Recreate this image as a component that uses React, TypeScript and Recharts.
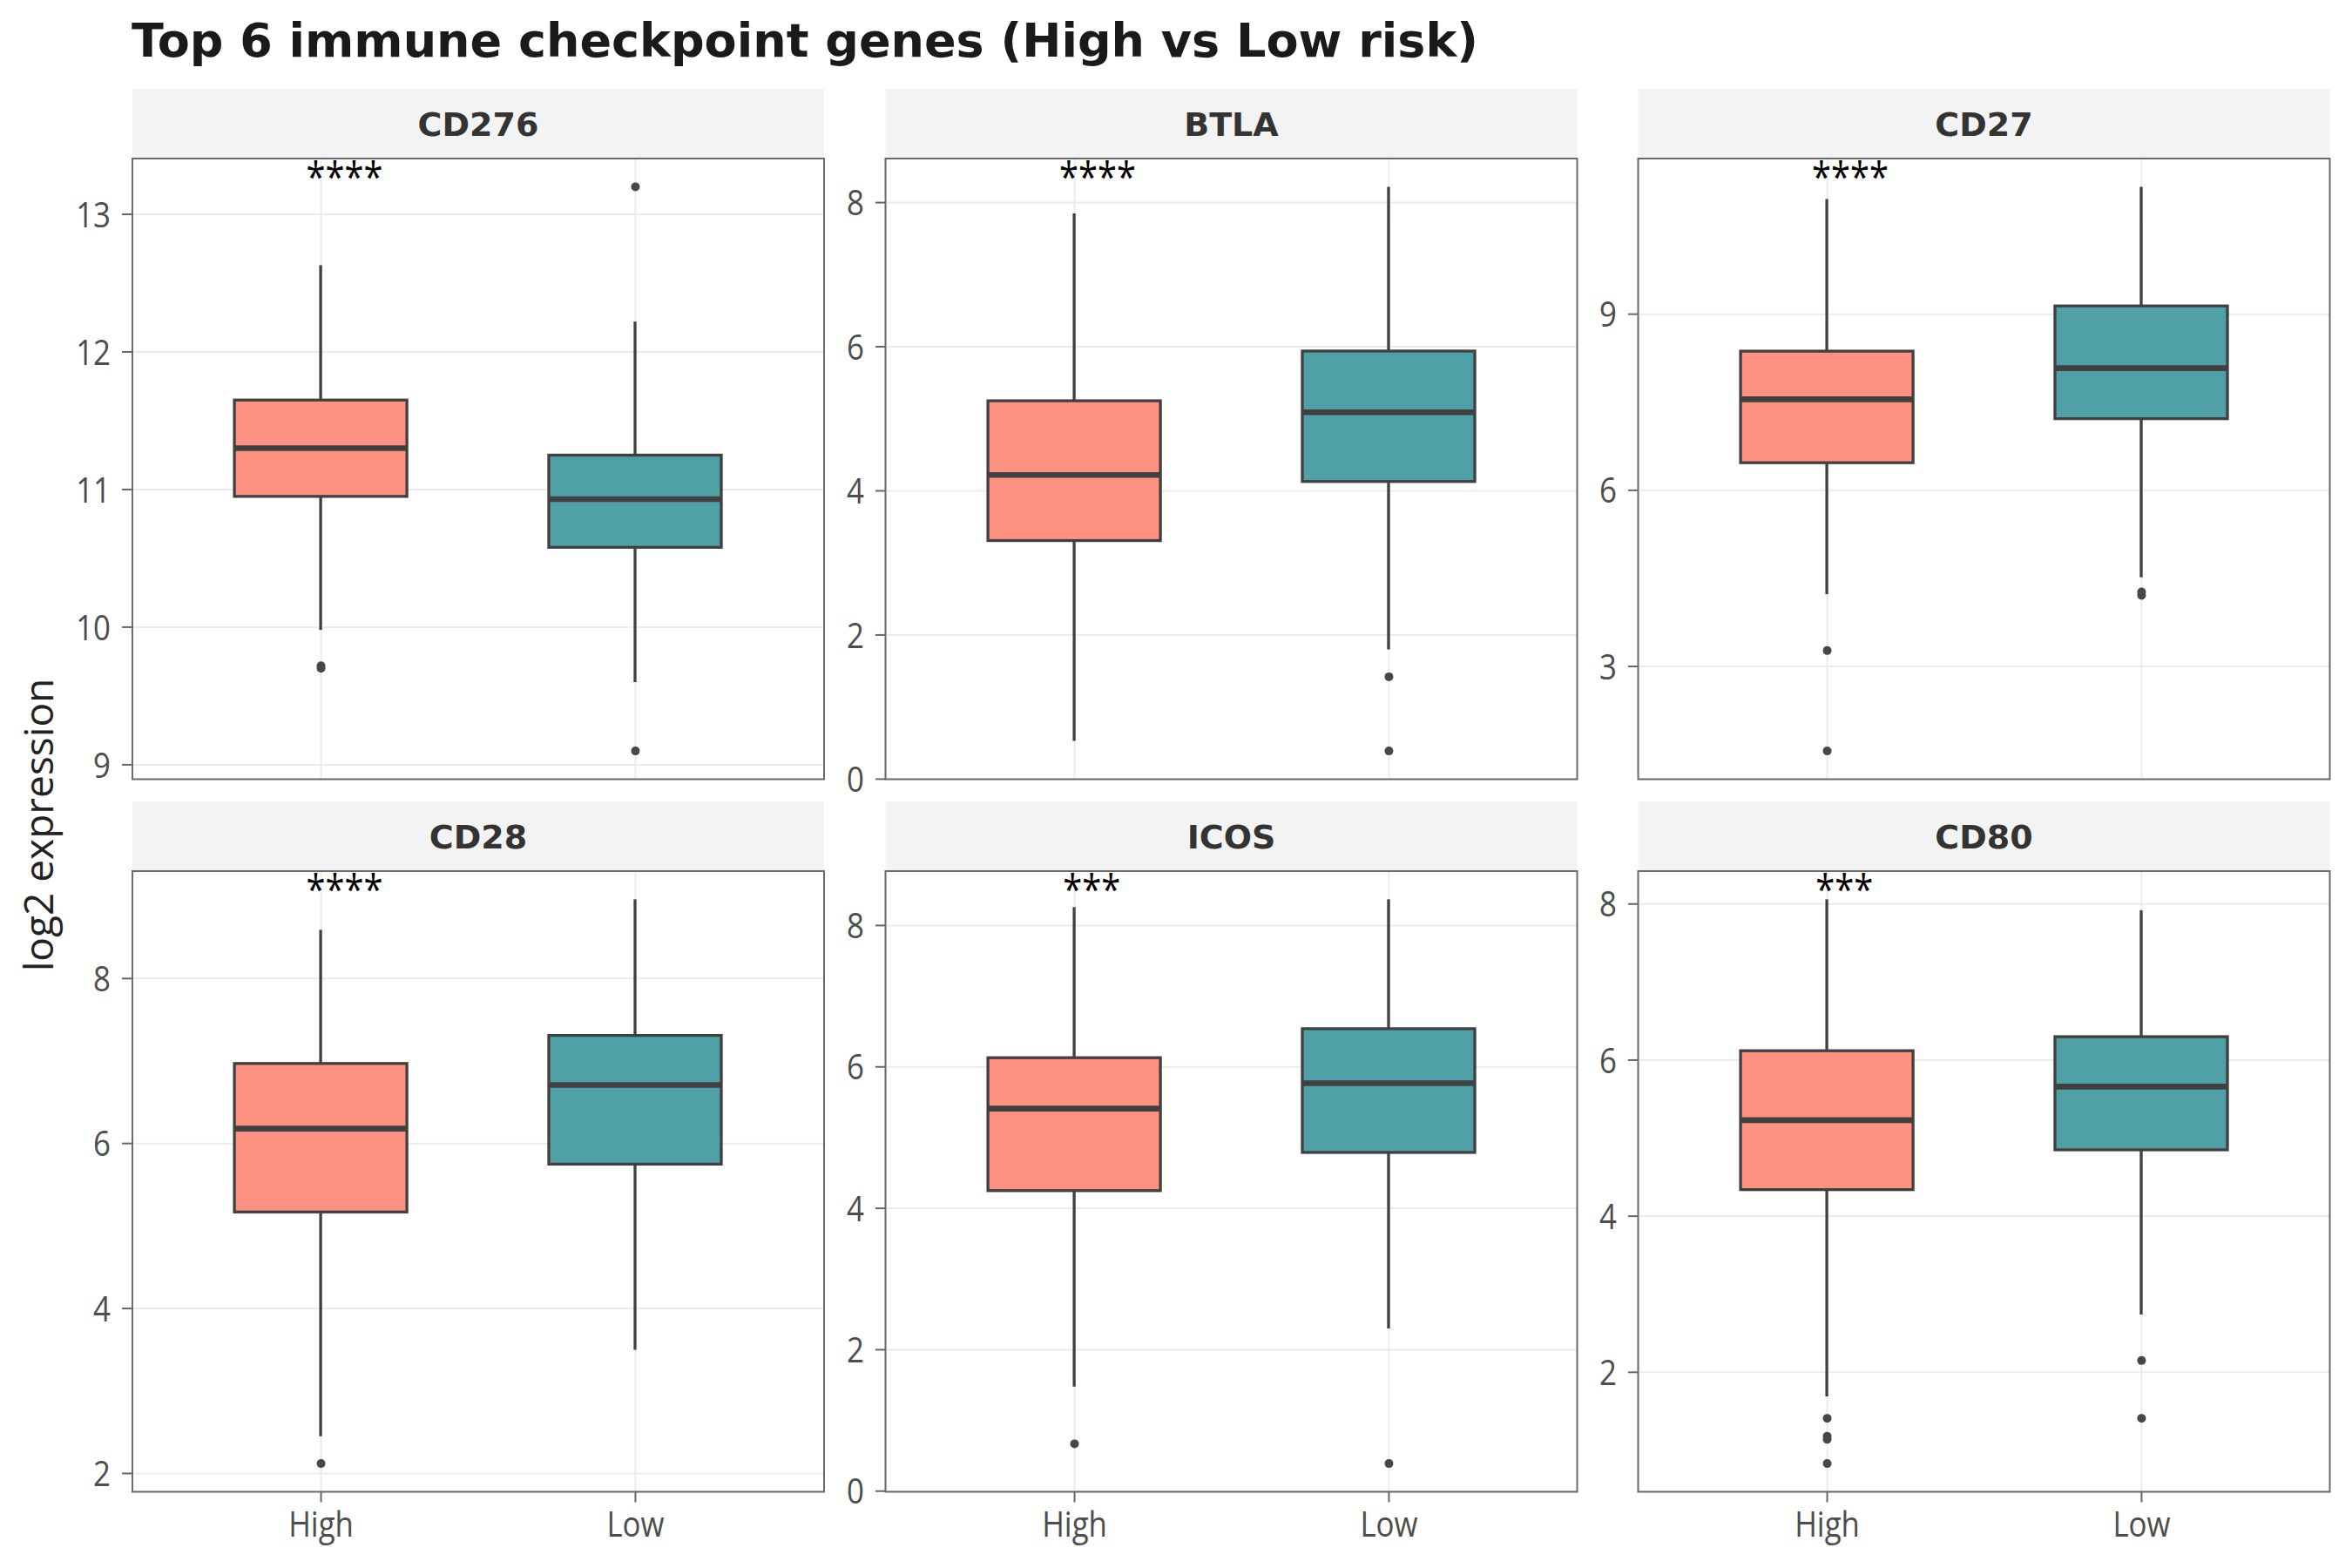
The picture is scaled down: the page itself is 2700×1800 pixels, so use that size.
import React from "react";
import { ComposedChart, Bar, Scatter, XAxis, YAxis, CartesianGrid } from "recharts";

// Genes shown in the 2x3 facet grid, in reading order
const GENES = ["CD276", "BTLA", "CD27", "CD28", "ICOS", "CD80"];
const GROUPS = ["High", "Low"];
const SIGNIF = ["****", "****", "****", "****", "***", "***"];
const Y_TICKS = [
  [9, 10, 11, 12, 13],
  [0, 2, 4, 6, 8],
  [3, 6, 9],
  [2, 4, 6, 8],
  [0, 2, 4, 6, 8],
  [2, 4, 6, 8],
];

// Box-plot summaries per gene: [High, Low]
const LOWER_WHISKER = [[9.98, 9.6], [0.53, 1.8], [4.23, 4.52], [2.45, 3.5], [1.48, 2.3], [1.69, 2.74]];
const Q1 = [[10.95, 10.58], [3.31, 4.13], [6.47, 7.22], [5.17, 5.75], [4.25, 4.79], [4.34, 4.85]];
const MEDIAN = [[11.3, 10.93], [4.22, 5.09], [7.55, 8.08], [6.18, 6.71], [5.41, 5.77], [5.23, 5.66]];
const Q3 = [[11.65, 11.25], [5.25, 5.94], [8.37, 9.14], [6.97, 7.31], [6.13, 6.54], [6.12, 6.3]];
const UPPER_WHISKER = [[12.63, 12.22], [7.85, 8.22], [10.96, 11.17], [8.59, 8.96], [8.26, 8.37], [8.06, 7.92]];
const OUTLIERS_HIGH = [[9.72, 9.7], [], [3.27, 1.56], [2.12], [0.67], [1.41, 1.18, 1.14, 0.83]];
const OUTLIERS_LOW = [[13.2, 9.1], [1.42, 0.39], [4.27, 4.21], [], [0.39], [2.15, 1.41]];

const FILLS = ["#FF9180", "#4FA1A5"];

// Facet geometry
const PANEL_X = [152, 1016.5, 1880.5];
const PANEL_Y = [182, 1000];
const PANEL_W = 794;
const PANEL_H = 712.5;
const STRIP_H = 80;
const AXIS_W = 80;
const XAXIS_H = 80;
const BOTTOM_ROOM = 30;
const BOX_W = 198;

const LINE = "#404040";
const TICK_FONT = "'Open Sans', 'Noto Sans', sans-serif";
const BOLD_FONT = "'DejaVu Sans', sans-serif";

const BoxShape = (props: any) => {
  const { x, y, width, height, payload } = props;
  if (!payload) return null;
  const top = Math.min(y, y + height);
  const bottom = Math.max(y, y + height);
  const span = payload.upper - payload.lower;
  const py = (v: number) => bottom - ((v - payload.lower) / span) * (bottom - top);
  const cx = x + width / 2;
  return (
    <g>
      <line x1={cx} x2={cx} y1={py(payload.upper)} y2={py(payload.q3)} stroke={LINE} strokeWidth={3.3} />
      <line x1={cx} x2={cx} y1={py(payload.q1)} y2={py(payload.lower)} stroke={LINE} strokeWidth={3.3} />
      <rect
        x={x}
        y={py(payload.q3)}
        width={width}
        height={py(payload.q1) - py(payload.q3)}
        fill={payload.fill}
        stroke={LINE}
        strokeWidth={3.3}
      />
      <line x1={x} x2={x + width} y1={py(payload.median)} y2={py(payload.median)} stroke={LINE} strokeWidth={6.6} />
    </g>
  );
};

const OutlierDot = (props: any) => {
  const { cx, cy } = props;
  if (cx == null || cy == null) return null;
  return <circle cx={cx} cy={cy} r={5} fill="#474747" />;
};

const YTick = (props: any) => {
  const { x, y, payload } = props;
  return (
    <g transform={`translate(${x},${y}) scale(0.85,1)`}>
      <text x={0} y={0} dy="0.357em" textAnchor="end" fontFamily={TICK_FONT} fontSize={41} fill="#4D4D4D">
        {payload.value}
      </text>
    </g>
  );
};

const XTick = (props: any) => {
  const { x, y, payload } = props;
  return (
    <g transform={`translate(${x},${y}) scale(0.85,1)`}>
      <text x={0} y={0} dy="0.714em" textAnchor="middle" fontFamily={TICK_FONT} fontSize={41} fill="#4D4D4D">
        {payload.value}
      </text>
    </g>
  );
};

function domainFor(i: number): [number, number] {
  const vals = [
    ...LOWER_WHISKER[i],
    ...UPPER_WHISKER[i],
    ...OUTLIERS_HIGH[i],
    ...OUTLIERS_LOW[i],
  ];
  const lo = Math.min(...vals);
  const hi = Math.max(...vals);
  const pad = (hi - lo) * 0.05;
  return [lo - pad, hi + pad];
}

function Panel({ index }: { index: number }) {
  const col = index % 3;
  const row = Math.floor(index / 3);
  const bottomRow = row === 1;
  const boxes = GROUPS.map((g, k) => ({
    group: g,
    lower: LOWER_WHISKER[index][k],
    q1: Q1[index][k],
    median: MEDIAN[index][k],
    q3: Q3[index][k],
    upper: UPPER_WHISKER[index][k],
    fill: FILLS[k],
  }));
  const outliers = [
    ...OUTLIERS_HIGH[index].map((v) => ({ group: "High", value: v })),
    ...OUTLIERS_LOW[index].map((v) => ({ group: "Low", value: v })),
  ];
  const pad = PANEL_W * (0.6 / 2.2 - 0.25) * 2;
  const extra = bottomRow ? XAXIS_H : BOTTOM_ROOM;
  return (
    <div style={{ position: "absolute", left: PANEL_X[col] - AXIS_W, top: PANEL_Y[row] }}>
      <ComposedChart
        width={AXIS_W + PANEL_W}
        height={PANEL_H + extra}
        data={boxes}
        margin={{ top: 0, right: 0, bottom: bottomRow ? 0 : BOTTOM_ROOM, left: 0 }}
      >
        <CartesianGrid stroke="#EBEBEB" strokeWidth={2} strokeDasharray="0" />
        <XAxis
          dataKey="group"
          type="category"
          allowDuplicatedCategory={false}
          padding={{ left: pad, right: pad }}
          hide={!bottomRow}
          height={XAXIS_H}
          axisLine={false}
          tickLine={{ stroke: "#666666", strokeWidth: 2 }}
          tickSize={12}
          tickMargin={10}
          tick={<XTick />}
          interval={0}
        />
        <YAxis
          type="number"
          width={AXIS_W}
          domain={domainFor(index)}
          allowDataOverflow
          ticks={Y_TICKS[index]}
          interval={0}
          axisLine={false}
          tickLine={{ stroke: "#666666", strokeWidth: 2 }}
          tickSize={12}
          tickMargin={13}
          tick={<YTick />}
        />
        <Bar
          dataKey={(d: any) => [d.lower, d.upper]}
          barSize={BOX_W}
          shape={BoxShape}
          isAnimationActive={false}
        />
        <Scatter data={outliers} dataKey="value" shape={OutlierDot} isAnimationActive={false} />
      </ComposedChart>
    </div>
  );
}

function Annotations() {
  return (
    <svg
      width={2700}
      height={1800}
      style={{ position: "absolute", left: 0, top: 0, pointerEvents: "none" }}
    >
      <text x={151} y={65} fontFamily={BOLD_FONT} fontWeight="bold" fontSize={54} fill="#1A1A1A">
        Top 6 immune checkpoint genes (High vs Low risk)
      </text>
      <text
        transform="translate(61,947) rotate(-90)"
        textAnchor="middle"
        fontFamily={TICK_FONT}
        fontSize={46}
        fill="#222222"
      >
        log2 expression
      </text>
      {GENES.map((gene, i) => {
        const col = i % 3;
        const row = Math.floor(i / 3);
        const x0 = PANEL_X[col];
        const y0 = PANEL_Y[row];
        const highX = x0 + (PANEL_W * 0.6) / 2.2;
        const stars = SIGNIF[i];
        return (
          <g key={gene}>
            <rect x={x0} y={y0 - STRIP_H} width={PANEL_W} height={STRIP_H} fill="#F3F3F3" />
            <text
              x={x0 + PANEL_W / 2}
              y={y0 - STRIP_H / 2}
              dy="0.3645em"
              textAnchor="middle"
              fontFamily={BOLD_FONT}
              fontWeight="bold"
              fontSize={38}
              fill="#333333"
            >
              {gene}
            </text>
            <rect x={x0} y={y0} width={PANEL_W} height={PANEL_H} fill="none" stroke="#6B6B6B" strokeWidth={2} />
            <g transform={`translate(${highX + 6.75 * stars.length},${y0 + 37.5}) scale(0.85,1)`}>
              <text x={0} y={0} textAnchor="middle" fontFamily={TICK_FONT} fontSize={47} fill="#000000">
                {stars}
              </text>
            </g>
          </g>
        );
      })}
    </svg>
  );
}

export default function App() {
  return (
    <div
      style={{
        position: "absolute",
        left: 0,
        top: 0,
        width: 2700,
        height: 1800,
        background: "#FFFFFF",
        overflow: "hidden",
      }}
    >
      {GENES.map((g, i) => (
        <Panel key={g} index={i} />
      ))}
      <Annotations />
    </div>
  );
}
